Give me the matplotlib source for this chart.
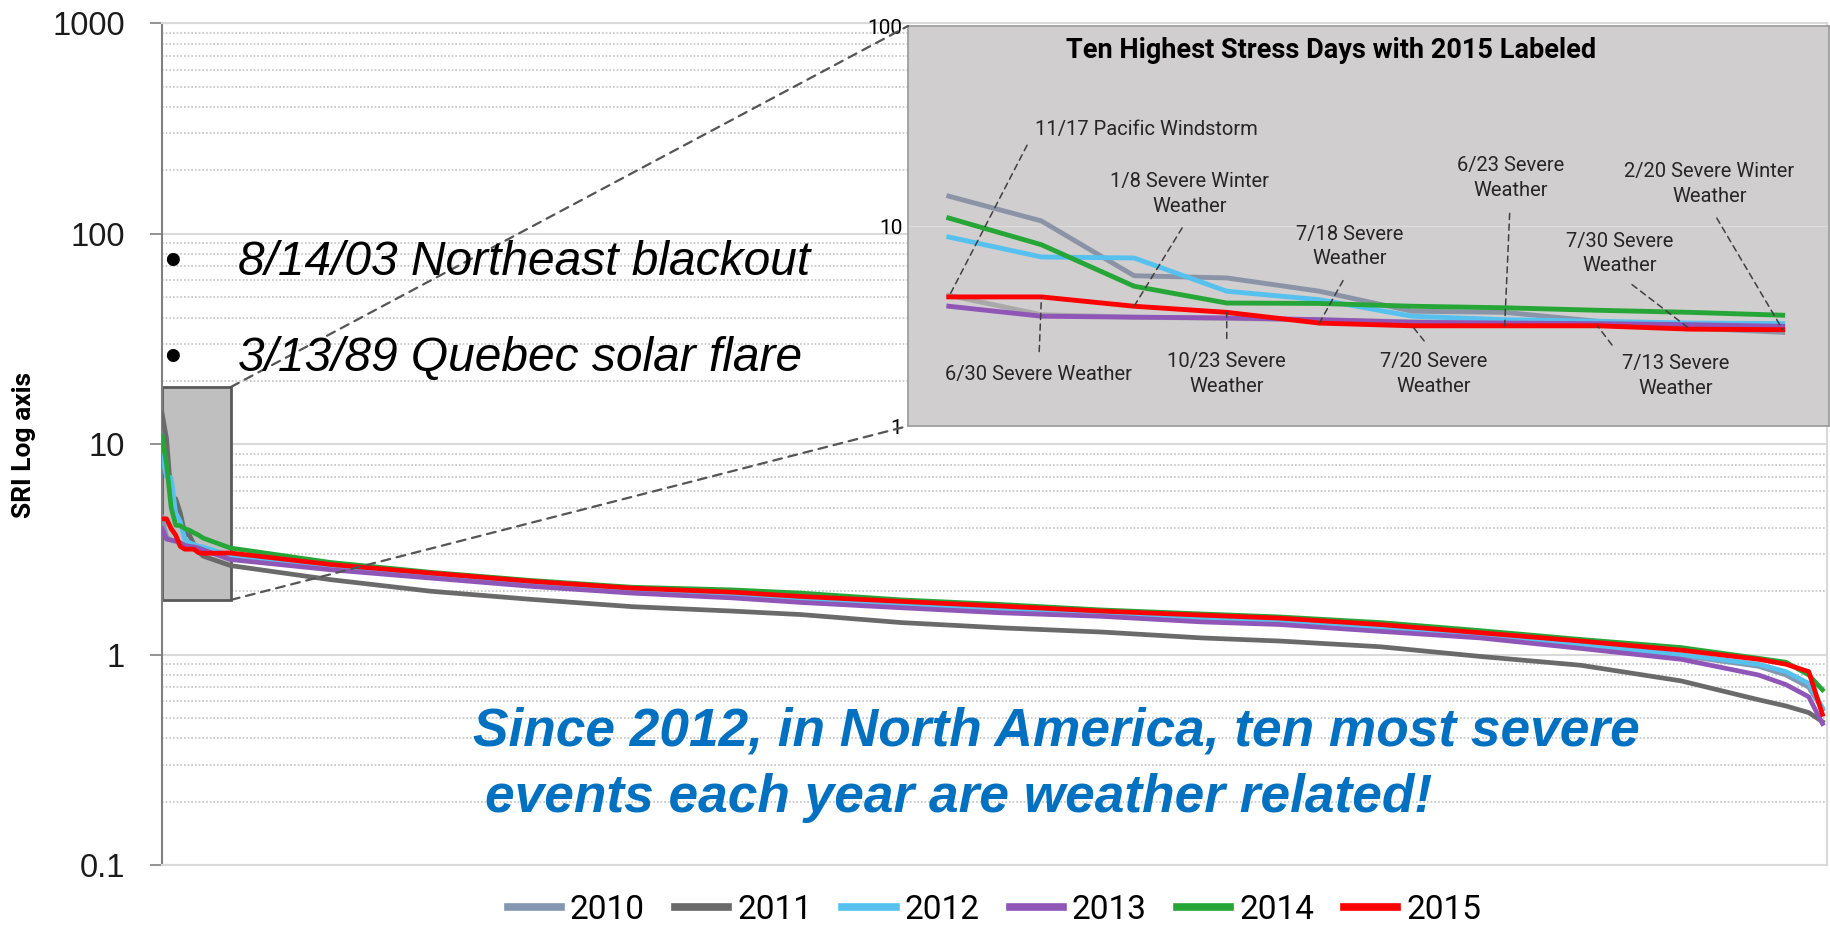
import matplotlib
matplotlib.use('Agg')
import matplotlib.pyplot as plt
from matplotlib import font_manager
from matplotlib.patches import Rectangle, ConnectionPatch
from matplotlib.ticker import FixedLocator, LogLocator, NullFormatter

# ---- data (sorted daily SRI, rank 1 = worst day) ----
years = ['2010', '2011', '2012', '2013', '2014', '2015']

top_ranks = list(range(1, 11))
top10_2010 = [4.5, 3.6, 3.5, 3.45, 3.4, 3.32, 3.28, 3.24, 3.2, 3.15]
top10_2011 = [14.1, 10.6, 5.64, 5.5, 4.72, 3.75, 3.70, 3.34, 3.09, 2.94]
top10_2012 = [8.81, 7.0, 6.92, 4.72, 4.28, 3.54, 3.40, 3.34, 3.27, 3.25]
top10_2013 = [3.97, 3.54, 3.50, 3.47, 3.40, 3.30, 3.27, 3.25, 3.21, 3.15]
top10_2014 = [10.96, 8.06, 5.0, 4.12, 4.10, 3.97, 3.90, 3.79, 3.70, 3.58]
top10_2015 = [4.42, 4.42, 3.97, 3.70, 3.27, 3.17, 3.17, 3.17, 3.05, 3.03]

tail_ranks = [16, 38, 60, 82, 104, 126, 141, 163, 185, 207, 229, 246, 268,
              290, 312, 334, 351, 357, 362, 365]
tail_2010 = [2.90, 2.58, 2.35, 2.15, 2.00, 1.91, 1.82, 1.72, 1.63, 1.55, 1.47,
             1.43, 1.33, 1.23, 1.10, 0.99, 0.88, 0.80, 0.70, 0.55]
tail_2011 = [2.65, 2.27, 2.00, 1.83, 1.69, 1.61, 1.55, 1.42, 1.34, 1.28, 1.20,
             1.16, 1.09, 0.98, 0.89, 0.75, 0.61, 0.57, 0.53, 0.48]
tail_2012 = [2.95, 2.62, 2.38, 2.17, 2.02, 1.93, 1.84, 1.74, 1.65, 1.57, 1.49,
             1.45, 1.35, 1.24, 1.12, 1.00, 0.90, 0.83, 0.73, 0.56]
tail_2013 = [2.83, 2.53, 2.31, 2.11, 1.96, 1.86, 1.77, 1.67, 1.58, 1.52, 1.43,
             1.39, 1.29, 1.20, 1.07, 0.95, 0.80, 0.72, 0.63, 0.47]
tail_2014 = [3.21, 2.74, 2.46, 2.25, 2.09, 2.03, 1.96, 1.82, 1.73, 1.63, 1.56,
             1.51, 1.42, 1.30, 1.18, 1.08, 0.96, 0.92, 0.80, 0.68]
tail_2015 = [3.04, 2.68, 2.44, 2.23, 2.07, 1.98, 1.89, 1.79, 1.70, 1.61, 1.54,
             1.49, 1.39, 1.27, 1.16, 1.05, 0.95, 0.90, 0.83, 0.52]

# 2015 top-ten event labels, in rank order
event_labels = ['11/17 Pacific Windstorm', '6/30 Severe Weather',
                '1/8 Severe Winter\nWeather', '10/23 Severe\nWeather',
                '7/18 Severe\nWeather', '7/20 Severe\nWeather',
                '6/23 Severe\nWeather', '7/13 Severe\nWeather',
                '7/30 Severe\nWeather', '2/20 Severe Winter\nWeather']

y_ticks = [0.1, 1, 10, 100, 1000]
y_tick_labels = ['0.1', '1', '10', '100', '1000']

colors = ['#8497B0', '#6A6A6A', '#56C1EF', '#8F56B8', '#27A638', '#FF0000']
inset_colors = ['#A9A9A9', '#8A94A6', '#56C1EF', '#8F56B8', '#27A638', '#FF0000']

top10 = [top10_2010, top10_2011, top10_2012, top10_2013, top10_2014, top10_2015]
tails = [tail_2010, tail_2011, tail_2012, tail_2013, tail_2014, tail_2015]

# ---- fonts ----
installed = {f.name for f in font_manager.fontManager.ttflist}
NARROW = 'Liberation Sans Narrow' if 'Liberation Sans Narrow' in installed else 'Roboto'
plt.rcParams['font.family'] = ['Liberation Sans', 'DejaVu Sans']

W, H = 1831, 927
fig = plt.figure(figsize=(W / 100, H / 100), dpi=100)


def px(x, y):
    # figure pixel (from top-left) -> figure fraction
    return x / W, 1 - y / H


# ---- main chart ----
ax = fig.add_axes([162 / W, 1 - 865 / H, (1827 - 162) / W, (865 - 23.4) / H])
ax.set_yscale('log')
ax.set_ylim(0.1, 1000)
ax.set_xlim(1, 366)

lines = []
for year, color, top, tail in zip(years, colors, top10, tails):
    ln, = ax.plot(top_ranks + tail_ranks, top + tail, color=color, lw=3.4,
                  label=year, zorder=3, solid_joinstyle='round')
    lines.append(ln)

ax.set_axisbelow(True)
ax.yaxis.set_major_locator(FixedLocator(y_ticks))
ax.set_yticklabels(y_tick_labels, fontsize=23.5, color='#1a1a1a')
ax.yaxis.set_minor_locator(LogLocator(base=10, subs=range(2, 10)))
ax.yaxis.set_minor_formatter(NullFormatter())
ax.tick_params(axis='y', which='major', length=8.5, width=1.2, color='#808080', pad=18)
ax.tick_params(axis='y', which='minor', length=0)
ax.set_xticks([])
ax.grid(axis='y', which='major', color='#D9D9D9', lw=1.5)
ax.grid(axis='y', which='minor', color='#C4C4C4', lw=1.2, linestyle=(0, (1, 1.2)))
for side in ['top', 'right', 'bottom']:
    ax.spines[side].set_color('#D9D9D9')
    ax.spines[side].set_linewidth(1.5)
ax.spines['left'].set_color('#808080')
ax.spines['left'].set_linewidth(1.5)

# highlighted top-ten area
zoom_rank_max, zoom_lo, zoom_hi = 16.1, 1.82, 18.7
ax.add_patch(Rectangle((1, zoom_lo), zoom_rank_max - 1, zoom_hi - zoom_lo,
                       facecolor='#BFBFBF', edgecolor='#595959', lw=2, zorder=2))

fig.text(*px(24, 445), 'SRI Log axis', rotation=90, ha='center', va='center',
         fontsize=19, fontweight='bold', family=[NARROW, 'Liberation Sans'])

# bullet notes
for y_base, note in [(275, '8/14/03 Northeast blackout'), (371, '3/13/89 Quebec solar flare')]:
    fig.text(*px(172, y_base), '\u2022', fontsize=34.5, ha='center', va='baseline')
    fig.text(*px(238, y_base), note, fontsize=34.5, style='italic', ha='left', va='baseline')

# blue call-out
fig.text(*px(473, 745), 'Since 2012, in North America, ten most severe',
         fontsize=38.3, fontweight='bold', style='italic', color='#0070C0', va='baseline')
fig.text(*px(485, 812), 'events each year are weather related!',
         fontsize=38.3, fontweight='bold', style='italic', color='#0070C0', va='baseline')

leg = ax.legend(handles=lines, loc='center', bbox_to_anchor=(0.5, -0.053), ncol=6,
                frameon=False, prop={'family': NARROW, 'size': 24},
                handlelength=1.6, handletextpad=0.27, columnspacing=0.9)
for h in leg.get_lines():
    h.set_linewidth(5.5)

# ---- inset: ten highest stress days ----
ins = fig.add_axes([908 / W, 1 - 426 / H, (1829 - 908) / W, (426 - 26) / H])
ins.set_facecolor('#D0CECE')
ins.set_yscale('log')
ins.set_ylim(1, 100)
ins.set_xlim(0.56, 10.5)
for year, color, top in zip(years, inset_colors, top10):
    ins.plot(top_ranks, top, color=color, lw=3.5, zorder=3)
ins.set_xticks([])
ins.yaxis.set_major_locator(FixedLocator([1, 10, 100]))
ins.set_yticklabels(['1', '10', '100'], fontsize=15, family=[NARROW, 'Liberation Sans'])
ins.yaxis.set_minor_formatter(NullFormatter())
ins.tick_params(axis='y', which='both', length=0, pad=4)
ins.grid(axis='y', which='major', color='#DCDCDC', lw=0.8)
ins.grid(axis='y', which='minor', visible=False)
for s in ins.spines.values():
    s.set_color('#9A9A9A')
    s.set_linewidth(1.2)

ins.text(0.459, 0.9375, 'Ten Highest Stress Days with 2015 Labeled', transform=ins.transAxes,
         ha='center', va='center', fontsize=19.5, fontweight='bold',
         family=[NARROW, 'Liberation Sans'])

# label anchor positions (rank, value) and which side the leader leaves from
label_pos = [(1.93, 30.2, 'left', (0, 0.5)), (1.97, 1.80, 'center', (0.5, 1)),
             (3.60, 14.45, 'center', (0.5, 0)), (4.0, 1.82, 'center', (0.5, 1)),
             (5.33, 7.9, 'center', (0.5, 0)), (6.23, 1.82, 'center', (0.5, 1)),
             (7.06, 17.4, 'center', (0.5, 0)), (8.84, 1.78, 'center', (0.1, 0.6)),
             (8.24, 7.29, 'center', (0.5, 0)), (9.21, 16.2, 'center', (0.5, 0))]
for rank, val, label, (tx, ty, ha, rel) in zip(top_ranks, top10_2015, event_labels, label_pos):
    ins.annotate(label, xy=(rank, val), xytext=(tx, ty), textcoords='data',
                 ha=ha, va='center', fontsize=14.5, color='#262626',
                 family=[NARROW, 'Liberation Sans'], linespacing=1.35,
                 arrowprops=dict(arrowstyle='-', ls=(0, (4, 3)), color='#404040', lw=1.1,
                                 relpos=rel, shrinkA=8, shrinkB=0), zorder=4)

# dashed connectors from the highlighted box to the inset
for yb, corner in [(zoom_hi, (0, 1)), (zoom_lo, (0, 0))]:
    con = ConnectionPatch(xyA=(zoom_rank_max, yb), coordsA=ax.transData,
                          xyB=corner, coordsB=ins.transAxes,
                          ls=(0, (4, 3)), color='#555555', lw=1.6)
    fig.add_artist(con)

fig.savefig('out.png', dpi=100)
